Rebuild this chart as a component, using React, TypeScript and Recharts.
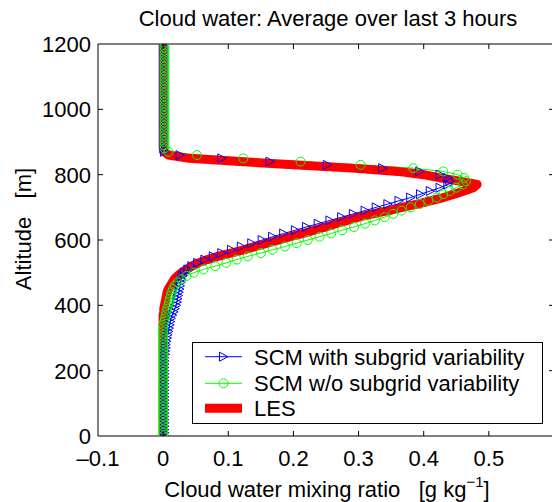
import { Line, LineChart, XAxis, YAxis } from "recharts";

// altitude levels of the single column model [m]
const ALTITUDE = [
  0, 10, 20, 30, 40, 50, 60, 70, 80, 90,
  100, 110, 120, 130, 140, 150, 160, 170, 180, 190,
  200, 210, 220, 230, 240, 250, 260, 270, 280, 290,
  300, 310, 320, 330, 340, 350, 360, 370, 380, 390,
  400, 410, 420, 430, 440, 450, 460, 470, 480, 490,
  500, 510, 520, 530, 540, 550, 560, 570, 580, 590,
  600, 610, 620, 630, 640, 650, 660, 670, 680, 690,
  700, 710, 720, 730, 740, 750, 760, 770, 780, 790,
  800, 810, 820, 830, 840, 850, 860, 870, 880, 890,
  900, 910, 920, 930, 940, 950, 960, 970, 980, 990,
  1000, 1010, 1020, 1030, 1040, 1050, 1060, 1070, 1080, 1090,
  1100, 1110, 1120, 1130, 1140, 1150, 1160, 1170, 1180, 1190,
  1200,
];

// cloud water [g/kg], SCM with subgrid variability
const SCM_SUBGRID = [
  0.002, 0.002, 0.002, 0.002, 0.002, 0.002, 0.002, 0.002, 0.002, 0.002,
  0.002, 0.002, 0.002, 0.002, 0.002, 0.002, 0.002, 0.002, 0.002, 0.002,
  0.002, 0.002, 0.002, 0.002, 0.002, 0.003, 0.003, 0.004, 0.004, 0.005,
  0.006, 0.007, 0.008, 0.009, 0.01, 0.011, 0.012, 0.014, 0.016, 0.018,
  0.02, 0.021, 0.022, 0.023, 0.024, 0.025, 0.026, 0.027, 0.028, 0.03,
  0.033, 0.038, 0.044, 0.053, 0.064, 0.077, 0.09, 0.105, 0.12, 0.136,
  0.152, 0.168, 0.185, 0.203, 0.22, 0.238, 0.256, 0.274, 0.292, 0.31,
  0.327, 0.345, 0.362, 0.38, 0.395, 0.41, 0.425, 0.437, 0.44, 0.437,
  0.425, 0.394, 0.337, 0.252, 0.164, 0.09, 0.026, 0.002, 0.001, 0.001,
  0.001, 0.001, 0.001, 0.001, 0.001, 0.001, 0.001, 0.001, 0.001, 0.001,
  0.001, 0.001, 0.001, 0.001, 0.001, 0.001, 0.001, 0.001, 0.001, 0.001,
  0.001, 0.001, 0.001, 0.001, 0.001, 0.001, 0.001, 0.001, 0.001, 0.001,
  0.001,
];

// cloud water [g/kg], SCM without subgrid variability
const SCM_NO_SUBGRID = [
  0, 0, 0, 0, 0, 0, 0, 0, 0, 0,
  0, 0, 0, 0, 0, 0, 0, 0, 0, 0,
  0, 0, 0, 0, 0, 0, 0, 0, 0, 0,
  0, 0, 0, 0, 0, 0.002, 0.003, 0.004, 0.005, 0.006,
  0.008, 0.009, 0.01, 0.012, 0.013, 0.015, 0.018, 0.022, 0.028, 0.036,
  0.047, 0.062, 0.08, 0.097, 0.113, 0.13, 0.15, 0.168, 0.187, 0.205,
  0.222, 0.24, 0.258, 0.275, 0.293, 0.31, 0.325, 0.34, 0.353, 0.366,
  0.38, 0.394, 0.407, 0.42, 0.43, 0.44, 0.45, 0.46, 0.465, 0.462,
  0.452, 0.43, 0.384, 0.303, 0.211, 0.123, 0.052, 0.008, 0.002, 0.002,
  0.002, 0.002, 0.002, 0.002, 0.002, 0.002, 0.002, 0.002, 0.002, 0.002,
  0.002, 0.002, 0.002, 0.002, 0.002, 0.002, 0.002, 0.002, 0.002, 0.002,
  0.002, 0.002, 0.002, 0.002, 0.002, 0.002, 0.002, 0.002, 0.002, 0.002,
  0.002,
];

// cloud water [g/kg], LES reference
const LES = [
  0, 0, 0, 0, 0, 0, 0, 0, 0, 0,
  0, 0, 0, 0, 0, 0, 0, 0, 0, 0,
  0, 0, 0, 0, 0, 0, 0, 0, 0, 0,
  0, 0, 0, 0, 0, 0, 0, 0, 0.001, 0.001,
  0.002, 0.003, 0.004, 0.005, 0.006, 0.008, 0.011, 0.014, 0.017, 0.022,
  0.028, 0.036, 0.044, 0.054, 0.068, 0.084, 0.104, 0.124, 0.142, 0.16,
  0.178, 0.195, 0.215, 0.232, 0.25, 0.265, 0.283, 0.3, 0.322, 0.345,
  0.367, 0.39, 0.41, 0.43, 0.447, 0.462, 0.476, 0.482, 0.455, 0.425,
  0.4, 0.36, 0.29, 0.2, 0.118, 0.04, 0.008, 0.002, 0, 0,
  0, 0, 0, 0, 0, 0, 0, 0, 0, 0,
  0, 0, 0, 0, 0, 0, 0, 0, 0, 0,
  0, 0, 0, 0, 0, 0, 0, 0, 0, 0,
  0,
];

const X_TICKS = [-0.1, 0, 0.1, 0.2, 0.3, 0.4, 0.5];
const Y_TICKS = [0, 200, 400, 600, 800, 1000, 1200];

const rows = ALTITUDE.map((z, i) => ({
  z,
  sub: SCM_SUBGRID[i],
  nosub: SCM_NO_SUBGRID[i],
  les: LES[i],
}));

const FONT = '"Liberation Sans", Arial, Helvetica, sans-serif';
const BLUE = "#0000ff";
const GREEN = "#00ff00";
const RED = "#ff0000";

const fmtX = (v: number) => (v < 0 ? "\u2013" + Math.abs(v) : String(v));

function BottomTick({ x, y, payload }: any) {
  const v = payload.value;
  return (
    <g>
      {v > -0.1 && <line x1={x} x2={x} y1={y} y2={y - 5} stroke="#000" />}
      <text x={x} y={y + 30} textAnchor="middle" fontSize={22} fontFamily={FONT} fill="#000">
        {fmtX(v)}
      </text>
    </g>
  );
}

function TopTick({ x, y, payload }: any) {
  if (payload.value <= -0.1) return <g />;
  return <line x1={x} x2={x} y1={y} y2={y + 5} stroke="#000" />;
}

function LeftTick({ x, y, payload }: any) {
  const v = payload.value;
  return (
    <g>
      {v > 0 && v < 1200 && <line x1={x} x2={x + 5} y1={y} y2={y} stroke="#000" />}
      <text x={x - 7} y={y + 8} textAnchor="end" fontSize={22} fontFamily={FONT} fill="#000">
        {v}
      </text>
    </g>
  );
}

function RightTick({ x, y, payload }: any) {
  const v = payload.value;
  if (v <= 0 || v >= 1200) return <g />;
  return <line x1={x} x2={x - 5} y1={y} y2={y} stroke="#000" />;
}

const triangle = (cx: number, cy: number) =>
  `M${cx - 4},${cy - 4.5}L${cx + 4.5},${cy}L${cx - 4},${cy + 4.5}Z`;

const renderTriangle = (p: any) => (
  <path key={`t-${p.index}`} d={triangle(p.cx, p.cy)} fill="none" stroke={BLUE} strokeWidth={1} />
);

const renderCircle = (p: any) => (
  <circle key={`c-${p.index}`} cx={p.cx} cy={p.cy} r={4.5} fill="none" stroke={GREEN} strokeWidth={1} />
);

export default function App() {
  return (
    <div
      style={{
        position: "absolute",
        left: 0,
        top: 0,
        width: 552,
        height: 502,
        overflow: "hidden",
        background: "#fff",
        fontFamily: FONT,
      }}
    >
      <LineChart
        width={570}
        height={502}
        data={rows}
        layout="vertical"
        margin={{ top: 14, right: 6, bottom: 0, left: 0 }}
      >
        <XAxis
          type="number"
          domain={[-0.1, 0.6]}
          ticks={X_TICKS}
          height={66}
          tickSize={0}
          tickMargin={0}
          tickLine={false}
          tick={BottomTick}
          axisLine={{ stroke: "#000" }}
          allowDataOverflow
        />
        <XAxis
          xAxisId="top"
          orientation="top"
          type="number"
          domain={[-0.1, 0.6]}
          ticks={X_TICKS}
          height={30}
          tickSize={0}
          tickMargin={0}
          tickLine={false}
          tick={TopTick}
          axisLine={{ stroke: "#000" }}
          allowDataOverflow
        />
        <YAxis
          type="number"
          dataKey="z"
          domain={[0, 1200]}
          ticks={Y_TICKS}
          reversed
          width={98}
          tickSize={0}
          tickMargin={0}
          tickLine={false}
          tick={LeftTick}
          axisLine={{ stroke: "#000" }}
          allowDataOverflow
        />
        <YAxis
          yAxisId="right"
          orientation="right"
          type="number"
          dataKey="z"
          domain={[0, 1200]}
          ticks={Y_TICKS}
          reversed
          width={10}
          tickSize={0}
          tickMargin={0}
          tickLine={false}
          tick={RightTick}
          axisLine={{ stroke: "#000" }}
          allowDataOverflow
        />
        <Line
          dataKey="sub"
          type="linear"
          stroke={BLUE}
          strokeWidth={1}
          dot={renderTriangle}
          activeDot={false}
          isAnimationActive={false}
        />
        <Line
          dataKey="nosub"
          type="linear"
          stroke={GREEN}
          strokeWidth={1}
          dot={renderCircle}
          activeDot={false}
          isAnimationActive={false}
        />
        <Line
          dataKey="les"
          type="linear"
          stroke={RED}
          strokeWidth={9}
          strokeLinejoin="round"
          dot={false}
          activeDot={false}
          isAnimationActive={false}
        />
      </LineChart>

      <svg
        width={552}
        height={502}
        style={{ position: "absolute", left: 0, top: 0, pointerEvents: "none" }}
        fontFamily={FONT}
      >
        <text x={328} y={26} textAnchor="middle" fontSize={22} fill="#000">
          Cloud water: Average over last 3 hours
        </text>
        <text
          x={327}
          y={497}
          textAnchor="middle"
          fontSize={22}
          fill="#000"
          style={{ whiteSpace: "pre" }}
        >
          <tspan>{"Cloud water mixing ratio   [g kg"}</tspan>
          <tspan fontSize={15} dy={-10}>
            {"\u22121"}
          </tspan>
          <tspan dy={10}>]</tspan>
        </text>
        <text
          transform="translate(31,229) rotate(-90)"
          textAnchor="middle"
          fontSize={22}
          fill="#000"
          style={{ whiteSpace: "pre" }}
        >
          {"Altitude   [m]"}
        </text>

        <rect x={192.5} y={342.5} width={350} height={81} fill="#fff" stroke="#000" strokeWidth={1} />
        <line x1={205} x2={242} y1={356.7} y2={356.7} stroke={BLUE} strokeWidth={1} />
        <path d={triangle(223.5, 356.7)} fill="none" stroke={BLUE} strokeWidth={1} />
        <text x={254} y={365} fontSize={22} fill="#000">
          SCM with subgrid variability
        </text>
        <line x1={205} x2={242} y1={383.3} y2={383.3} stroke={GREEN} strokeWidth={1} />
        <circle cx={223.5} cy={383.3} r={4.5} fill="none" stroke={GREEN} strokeWidth={1} />
        <text x={254} y={391} fontSize={22} fill="#000">
          SCM w/o subgrid variability
        </text>
        <line x1={205} x2={242} y1={408.3} y2={408.3} stroke={RED} strokeWidth={9} />
        <text x={254} y={416} fontSize={22} fill="#000">
          LES
        </text>
      </svg>
    </div>
  );
}
